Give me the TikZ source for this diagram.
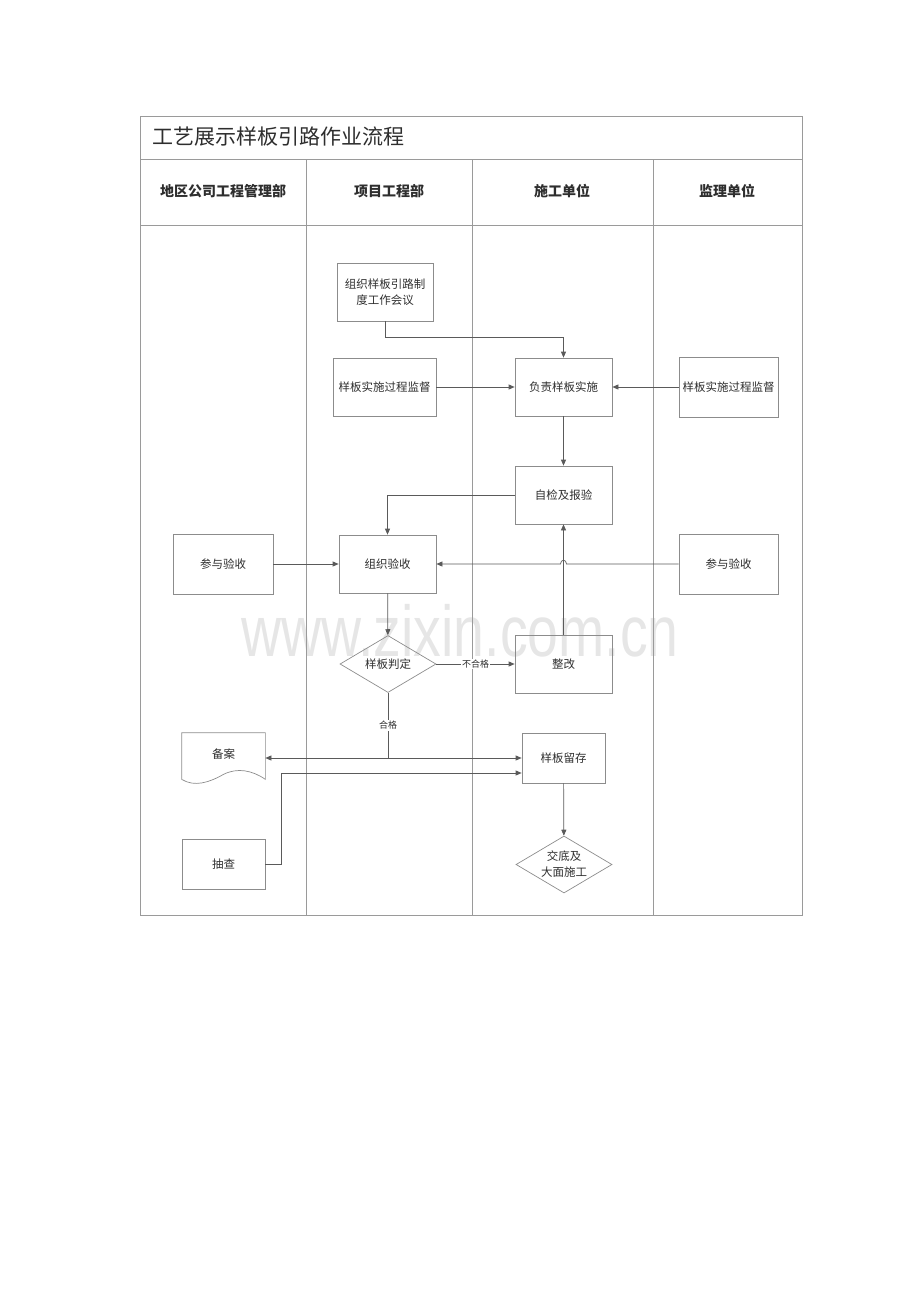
\documentclass[tikz,border=0pt]{standalone}
\usepackage{fontspec}
\setmainfont{Liberation Sans}
\newfontfamily\cjk{Noto Sans CJK SC}
\usetikzlibrary{arrows.meta,shapes.geometric}
\definecolor{lanegray}{HTML}{9A9A9A}
\definecolor{boxgray}{HTML}{8C8C8C}
\definecolor{linegray}{HTML}{5A5A5A}
\definecolor{wmgray}{HTML}{E6E6E6}
\definecolor{txtgray}{HTML}{2E2E2E}
\begin{document}
\begin{tikzpicture}[x=1pt,y=-1pt]
    \useasboundingbox (0,0) rectangle (920,1302);
    % watermark
    \node[font=\fontsize{72}{72}\selectfont, text=wmgray, xscale=0.77, inner sep=0, anchor=base] (wmark) at (460,656) {www.zixin.com.cn};
    % frame and lanes
    \begin{scope}[draw=lanegray, line width=0.8pt]
        \draw (140,116) rectangle (802,915);
        \draw (140,159) -- (802,159);
        \draw (140,225) -- (802,225);
        \foreach \x in {306,472,653}
            \draw (\x,159) -- (\x,915);
    \end{scope}
    \begin{scope}
        \tikzstyle{every node}=[text=txtgray, inner sep=0]
        \node[anchor=west, font=\cjk\fontsize{21}{24}\selectfont] (title) at (152,137) {工艺展示样板引路作业流程};
        \node[font=\cjk\bfseries\fontsize{14}{16}\selectfont] (hdA) at (223,191) {地区公司工程管理部};
        \node[font=\cjk\bfseries\fontsize{14}{16}\selectfont] (hdB) at (389,191) {项目工程部};
        \node[font=\cjk\bfseries\fontsize{14}{16}\selectfont] (hdC) at (562,191) {施工单位};
        \node[font=\cjk\bfseries\fontsize{14}{16}\selectfont] (hdD) at (727,191) {监理单位};
    \end{scope}
    \begin{scope}
        \tikzstyle{every node}=[draw=boxgray, rectangle, line width=0.7pt, text=txtgray, inner sep=0, align=center, minimum width=97, minimum height=58, font=\cjk\fontsize{11.5}{16}\selectfont]
        \node[minimum width=96] (hui) at (385,292) {组织样板引路制\\度工作会议};
        \node[minimum width=103] (jianduL) at (384.5,387) {样板实施过程监督};
        \node (fuze) at (563.5,387) {负责样板实施};
        \node[minimum width=99, minimum height=60] (jianduR) at (728.5,387) {样板实施过程监督};
        \node (zijian) at (563.5,495) {自检及报验};
        \node[minimum width=100, minimum height=60] (canyuL) at (223,564) {参与验收};
        \node (zuzhi) at (387.5,564) {组织验收};
        \node[minimum width=99, minimum height=60] (canyuR) at (728.5,564) {参与验收};
        \node[diamond, aspect=1.7, minimum width=96, minimum height=57] (panding) at (388,664) {样板判定};
        \node (zhenggai) at (563.5,664) {整改};
        \node[draw=none, minimum width=83, minimum height=46] (beian) at (223.5,756) {\raisebox{4pt}{备案}};
        \node[minimum width=83, minimum height=50] (liucun) at (563.5,758) {样板留存};
        \node[minimum width=83, minimum height=50] (chucha) at (223.5,864) {抽查};
        \node[diamond, aspect=1.7, minimum width=96, minimum height=57] (jiaodi) at (564,864.5) {交底及\\大面施工};
    \end{scope}
    % document shape
    \draw[boxgray, line width=0.7pt] (beian.south west) -- (beian.north west) -- (beian.north east) -- (beian.south east)
        .. controls +(-13,-9) and +(14,-7) .. ([yshift=5pt]beian.south)
        .. controls +(-14,8) and +(13,8) .. (beian.south west);
    \begin{scope}
        \tikzstyle{every edge}=[draw, linegray, line width=0.7pt, -{Triangle[length=6pt, width=5pt]}]
        \tikzstyle{every node}=[fill=white, inner sep=1pt, text=txtgray, font=\cjk\fontsize{9}{10}\selectfont]
        \path
        (jianduL) edge (fuze)
        (jianduR) edge (fuze)
        (fuze) edge (zijian)
        (canyuL) edge (zuzhi)
        (zhenggai) edge (zijian)
        (zuzhi) edge (panding)
        (panding) edge node {不合格} (zhenggai)
        (liucun) edge (jiaodi)
        ;
    \end{scope}
    \begin{scope}[linegray, line width=0.7pt]
        \tikzstyle{conn}=[-{Triangle[length=6pt, width=5pt]}]
        \coordinate (hop) at (zhenggai.north |- zuzhi.east);
        \coordinate (split) at (panding.south |- liucun.west);
        \draw[conn] (hui.south) -- ++(0,16) -| (fuze.north);
        \draw[conn] (zijian.west) -| (zuzhi.north);
        \draw[conn] (canyuR.west) -- ([xshift=3pt]hop)
            .. controls +(0,-5) and +(0,-5) .. ([xshift=-3pt]hop) -- (zuzhi.east);
        \draw (panding.south) -- node[fill=white, inner sep=1pt, text=txtgray, font=\cjk\fontsize{9}{10}\selectfont] {合格} (split);
        \draw[conn] (split) -- (split -| beian.east);
        \draw[conn] (split) -- (liucun.west);
        \draw[conn] (chucha.east) -- ++(16,0) |- ([yshift=-15pt]liucun.west);
    \end{scope}
\end{tikzpicture}
\end{document}
